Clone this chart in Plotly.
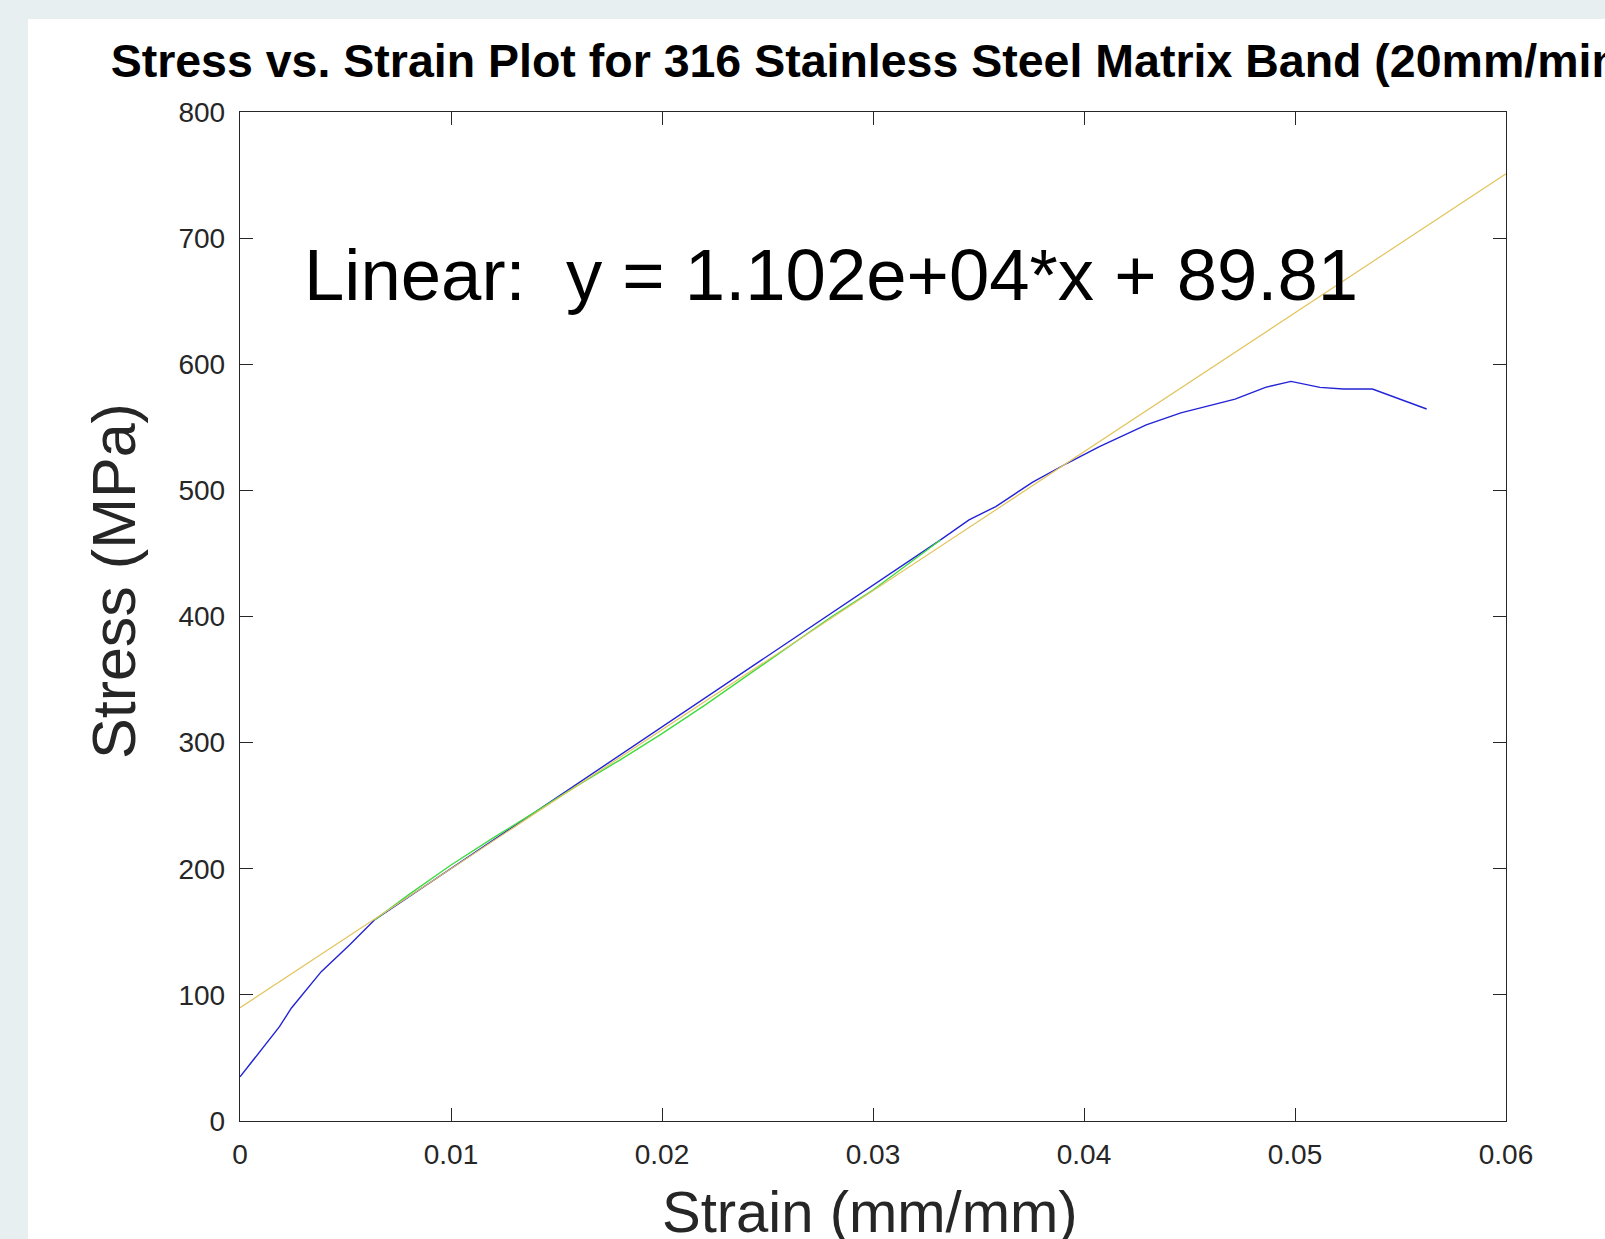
import plotly.graph_objects as go

# ---- data ----
strain_blue = [0.0, 0.00187, 0.00243, 0.00385, 0.00519, 0.00637,
               0.0332, 0.03455, 0.03582, 0.03757, 0.0392, 0.04073, 0.04295,
               0.04459, 0.04716, 0.0486, 0.04981, 0.05118, 0.0523, 0.05367, 0.05624]
stress_blue = [35.0, 74.8, 89.4, 118.4, 139.6, 159.4,
               460.7, 476.6, 487.2, 506.5, 521.5, 534.7, 552.0,
               561.5, 572.3, 581.7, 586.4, 581.7, 580.4, 580.4, 564.5]

strain_green = [0.00637, 0.008, 0.010, 0.012, 0.014, 0.016, 0.018, 0.020,
                0.022, 0.024, 0.0253, 0.028, 0.030, 0.032, 0.0332]
stress_green = [159.4, 179.5, 203.0, 224.5, 245.1, 266.1, 286.2, 307.2,
                329.3, 352.8, 368.2, 399.4, 421.0, 446.0, 460.7]

fit_slope = 1.102e4
fit_intercept = 89.81
fit_x = [0.0, 0.06]
fit_y = [fit_slope * v + fit_intercept for v in fit_x]

x_ticks = [0, 0.01, 0.02, 0.03, 0.04, 0.05, 0.06]
x_tick_labels = ["0", "0.01", "0.02", "0.03", "0.04", "0.05", "0.06"]
y_ticks = [0, 100, 200, 300, 400, 500, 600, 700, 800]

title_text = "Stress vs. Strain Plot for 316 Stainless Steel Matrix Band (20mm/min)"
eq_text = "Linear:  y = 1.102e+04*x + 89.81"

FONT = "Liberation Sans, Arial, Helvetica, sans-serif"
AX = "#262626"
BG = "#e8eff1"

fig = go.Figure()
fig.add_trace(go.Scatter(x=strain_blue, y=stress_blue, mode="lines",
                         line=dict(color="#2323d6", width=1.4), showlegend=False))
fig.add_trace(go.Scatter(x=strain_green, y=stress_green, mode="lines",
                         line=dict(color="#3fdc3f", width=1.4), showlegend=False))
fig.add_trace(go.Scatter(x=fit_x, y=fit_y, mode="lines",
                         line=dict(color="#e2c35c", width=1.2), showlegend=False))

W, H = 1605, 1239
L, R, T, B = 240, 1506, 112, 1121
pw, ph = R - L, B - T

def px_x(p):
    return (p - L) / pw

def px_y(p):
    return (B - p) / ph

axis_common = dict(showline=True, linecolor=AX, linewidth=1.4, mirror="ticks",
                   ticks="inside", ticklen=13, tickcolor=AX, tickwidth=1.2,
                   showgrid=False, zeroline=False,
                   tickfont=dict(family=FONT, size=28, color=AX))

fig.update_layout(
    width=W, height=H,
    margin=dict(l=L, r=W - R, t=T, b=H - B),
    paper_bgcolor=BG,
    plot_bgcolor="white",
    xaxis=dict(range=[0, 0.06], tickvals=x_ticks, ticktext=x_tick_labels,
               ticklabelstandoff=8, **axis_common),
    yaxis=dict(range=[0, 800], tickvals=y_ticks,
               ticklabelstandoff=8, **axis_common),
    title=dict(text=title_text, x=0.5, xref="paper", xanchor="center",
               y=1 - 61 / H, yref="container", yanchor="middle",
               font=dict(family=FONT, size=46.5, color="black", weight=700)),
    shapes=[dict(type="rect", xref="paper", yref="paper",
                 x0=px_x(28), x1=px_x(W + 20), y0=px_y(H + 20), y1=px_y(19),
                 fillcolor="white", line=dict(width=0), layer="below")],
    annotations=[
        dict(text=eq_text, x=px_x(302), y=px_y(275), xref="paper", yref="paper",
             xanchor="left", yanchor="middle", showarrow=False,
             font=dict(family=FONT, size=72.5, color="black")),
        dict(text="Strain (mm/mm)", x=px_x(870), y=px_y(1211), xref="paper", yref="paper",
             xanchor="center", yanchor="middle", showarrow=False,
             font=dict(family=FONT, size=58, color=AX)),
        dict(text="Stress (MPa)", x=px_x(114), y=px_y(581), xref="paper", yref="paper",
             xanchor="center", yanchor="middle", showarrow=False, textangle=-90,
             font=dict(family=FONT, size=61, color=AX)),
    ],
)

fig.write_html(
    "out.html",
    config={"displayModeBar": False},
    post_script="document.body.style.margin='0';document.body.style.background='%s';"
                "document.documentElement.style.overflow='hidden';" % BG,
)
